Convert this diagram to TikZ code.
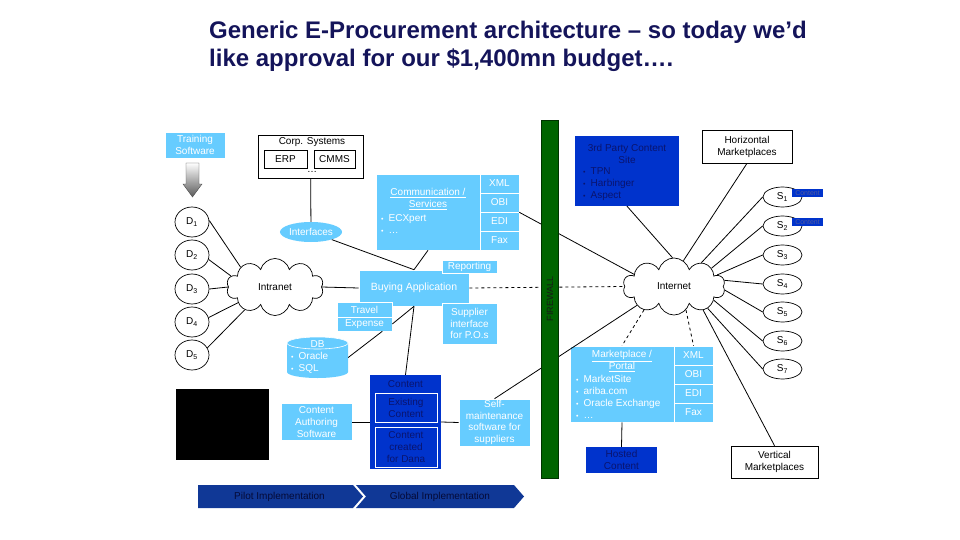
\documentclass[tikz,border=0pt]{standalone}
\usepackage{fontspec}
\setmainfont{Liberation Sans}
\usepackage{tikz}
\usetikzlibrary{calc,shapes.geometric,shapes.symbols}
\definecolor{lblue}{RGB}{102,204,255}
\definecolor{dblue}{RGB}{0,51,204}
\definecolor{txtnavy}{RGB}{10,20,110}
\definecolor{barblue}{RGB}{16,56,150}
\definecolor{fwgreen}{RGB}{0,100,0}
\definecolor{ttlblue}{RGB}{20,20,90}
\newcommand\blt{{\fontsize{7}{7}\selectfont\textbullet}\enspace}

\tikzset{
  lbox/.style={fill=lblue, draw=white, line width=0.6pt, text=white, align=center, inner sep=1pt},
  dbox/.style={fill=dblue, text=txtnavy, align=center, inner sep=1pt},
  wbox/.style={draw=black, fill=white, line width=0.7pt, align=center, inner sep=1pt},
  dnode/.style={ellipse, draw, line width=0.7pt, minimum width=34pt, minimum height=30pt, inner sep=0pt},
  snode/.style={ellipse, draw, line width=0.7pt, minimum width=39pt, minimum height=20pt, inner sep=0pt},
  netcloud/.style={cloud, draw, line width=0.7pt, cloud puffs=10, aspect=1.7, inner sep=0pt},
  link/.style={line width=0.8pt},
}

\begin{document}
\begin{tikzpicture}[x=1pt, y=-1pt, font=\fontsize{10}{12}\selectfont]
		\useasboundingbox (0,0) rectangle (960,540);
		%%%%% START %%%%%
		\node[anchor=north west, align=left, inner sep=0pt, text=ttlblue,
		      font=\bfseries\fontsize{24}{28.3}\selectfont] (title) at (209,21)
		      {Generic E-Procurement architecture – so today we’d\\like approval for our \$1,400mn budget….};
		
		% left side
		\node[lbox, minimum width=60pt, minimum height=26pt] (train) at (195,145) {Training\\Software};
		\shade[top color=white, bottom color=black!65, draw=black!70] (186,163) -- (199,163) -- (199,184) -- (202,184) -- (192.5,197) -- (183,184) -- (186,184) -- cycle;
		
		\node[dnode] (d1) at (192,222) {D\textsubscript{1}};
		\node[dnode] (d2) at (192,255) {D\textsubscript{2}};
		\node[dnode] (d3) at (192,289) {D\textsubscript{3}};
		\node[dnode] (d4) at (192,322) {D\textsubscript{4}};
		\node[dnode] (d5) at (192,355) {D\textsubscript{5}};
		
		\node[wbox, minimum width=105pt, minimum height=43pt] (corp) at (310.5,156.5) {};
		\node (corph) at (312,142) {Corp. Systems};
		\node[wbox, minimum width=43pt, minimum height=18pt] (erp) at (285.5,159) {ERP};
		\node[wbox, minimum width=41pt, minimum height=18pt] (cmms) at (334.5,159) {CMMS};
		\node[inner sep=0pt] (corpdots) at (312,172) {\dots};
		
		\node[ellipse, fill=lblue, text=white, minimum width=62pt, minimum height=20pt, inner sep=0pt] (intf) at (311,232) {Interfaces};
		
		\node[lbox, minimum width=104pt, minimum height=76pt] (comm) at (428,212) {};
		\node[text=white, align=center, inner sep=0pt] (commh) at (428,199) {\underline{Communication /}\\\underline{Services}};
		\node[text=white, align=left, inner sep=0pt, anchor=west] (commb) at (381,224) {\blt ECXpert\\\blt \dots};
		\node[lbox, minimum width=39pt, minimum height=19pt] (xml1) at (499.5,183.5) {XML};
		\node[lbox, minimum width=39pt, minimum height=19pt] (obi1) at (499.5,202.5) {OBI};
		\node[lbox, minimum width=39pt, minimum height=19pt] (edi1) at (499.5,221.5) {EDI};
		\node[lbox, minimum width=39pt, minimum height=19pt] (fax1) at (499.5,240.5) {Fax};
		
		\node[netcloud, minimum width=97pt, minimum height=57pt] (intra) at (275,287) {Intranet};
		
		\node[lbox, minimum width=110pt, minimum height=36pt, font=\fontsize{10.5}{12}\selectfont] (buy) at (414,288) {Buying Application};
		\node[lbox, minimum width=55pt, minimum height=13pt] (rep) at (469.5,266.5) {Reporting};
		\node[lbox, minimum width=55pt, minimum height=15pt] (trav) at (364.5,309.5) {Travel};
		\node[lbox, minimum width=55pt, minimum height=14pt] (exp) at (364.5,324) {Expense};
		\node[lbox, minimum width=55pt, minimum height=41pt, font=\fontsize{10}{11.5}\selectfont] (supp) at (469.5,323.5) {Supplier\\interface\\for P.O.s};
		
		\node[minimum width=61pt, minimum height=41pt, inner sep=0pt] (db) at (317.5,357.5) {};
		\fill[lblue] (287,343) -- (287,372) arc[start angle=180, end angle=0, x radius=30.5, y radius=6] -- (348,343) arc[start angle=0, end angle=-180, x radius=30.5, y radius=6] -- cycle;
		\draw[white, line width=0.6pt] (317.5,343) ellipse[x radius=30.5, y radius=6];
		\node[text=white, inner sep=0pt] (dbh) at (317.5,344) {DB};
		\node[text=white, align=left, inner sep=0pt, anchor=west] (dbb) at (291,362.5) {\blt Oracle\\\blt SQL};
		
		\fill[black] (176,389) rectangle (269,460);
		
		\node[lbox, minimum width=71pt, minimum height=37pt] (auth) at (316.5,422) {Content\\Authoring\\Software};
		\node[dbox, minimum width=71pt, minimum height=94pt] (cont) at (405.5,422) {};
		\node[text=txtnavy, inner sep=0pt] (conth) at (405.5,384) {Content};
		\node[dbox, draw=white, line width=0.6pt, minimum width=62pt, minimum height=29pt] (exist) at (406,407.5) {Existing\\Content};
		\node[dbox, draw=white, line width=0.6pt, minimum width=62pt, minimum height=40pt] (dana) at (406,447) {Content\\created\\for Dana};
		\node[lbox, minimum width=71pt, minimum height=47pt, inner sep=0pt, font=\fontsize{10}{11.5}\selectfont] (self) at (494.5,422.5) {Self-\\maintenance\\software for\\suppliers};
		
		\fill[barblue] (198,485) -- (353,485) -- (363,496.5) -- (353,508) -- (198,508) -- cycle;
		\fill[barblue] (356,485) -- (514,485) -- (524,496.5) -- (514,508) -- (356,508) -- (366,496.5) -- cycle;
		\node[text=txtnavy!50!black] (pilot) at (279.5,497) {Pilot Implementation};
		\node[text=txtnavy!50!black] (global) at (440,497) {Global Implementation};
		
		% right side
		\node[dbox, minimum width=104pt, minimum height=70pt] (third) at (627,171) {};
		\node[text=txtnavy, align=center, inner sep=0pt] (thirdh) at (627,154) {3rd Party Content\\Site};
		\node[text=txtnavy, align=left, inner sep=0pt, anchor=west] (thirdb) at (583,184) {\blt TPN\\\blt Harbinger\\\blt Aspect};
		
		\node[wbox, minimum width=90pt, minimum height=33pt] (hm) at (747,146.5) {Horizontal\\Marketplaces};
		
		\node[snode] (s1) at (782.5,197) {S\textsubscript{1}};
		\node[snode] (s2) at (782.5,226) {S\textsubscript{2}};
		\node[snode] (s3) at (782.5,255) {S\textsubscript{3}};
		\node[snode] (s4) at (782.5,284) {S\textsubscript{4}};
		\node[snode] (s5) at (782.5,312) {S\textsubscript{5}};
		\node[snode] (s6) at (782.5,341) {S\textsubscript{6}};
		\node[snode] (s7) at (782.5,369) {S\textsubscript{7}};
		\node[fill=dblue, text=txtnavy!70!white, minimum width=31pt, minimum height=8pt, inner sep=0pt, font=\fontsize{7}{7}\selectfont] (c1) at (807.5,193) {Content};
		\node[fill=dblue, text=txtnavy!70!white, minimum width=31pt, minimum height=8pt, inner sep=0pt, font=\fontsize{7}{7}\selectfont] (c2) at (807.5,222) {Content};
		
		\node[netcloud, minimum width=102pt, minimum height=57pt] (inet) at (674,286.5) {Internet};
		
		\node[lbox, minimum width=104pt, minimum height=76pt] (mkt) at (622,384) {};
		\node[text=white, align=center, inner sep=0pt] (mkth) at (622,361) {\underline{Marketplace /}\\\underline{Portal}};
		\node[text=white, align=left, inner sep=0pt, anchor=west] (mktb) at (576,397) {\blt MarketSite\\\blt ariba.com\\\blt Oracle Exchange\\\blt \dots};
		\node[lbox, minimum width=39pt, minimum height=19pt] (xml2) at (693.5,355.5) {XML};
		\node[lbox, minimum width=39pt, minimum height=19pt] (obi2) at (693.5,374.5) {OBI};
		\node[lbox, minimum width=39pt, minimum height=19pt] (edi2) at (693.5,393.5) {EDI};
		\node[lbox, minimum width=39pt, minimum height=19pt] (fax2) at (693.5,412.5) {Fax};
		
		\node[dbox, minimum width=71pt, minimum height=26pt] (hosted) at (621.5,460) {Hosted\\Content};
		\node[wbox, minimum width=87pt, minimum height=32pt] (vm) at (774.5,462) {Vertical\\Marketplaces};
		
		% connectors
		\draw[link] (d1.5) -- (intra.150);
		\draw[link] (d2.-15) -- (intra.166);
		\draw[link] (d3.east) -- (intra.west);
		\draw[link] (d4.15) -- (intra.203);
		\draw[link] (d5.25) -- (intra.217);
		\draw[link] (corp) -- (intf);
		\draw[link] (intf) -- (buy.north);
		\draw[link] (comm.south) -- (buy.north);
		\draw[link] (intra.east) -- (buy.west);
		\draw[link] (exp.east) -- (buy.south);
		\draw[link] ([xshift=-10pt]exp.south east) -- (db.east);
		\draw[link] (buy.south) -- (cont.north);
		\draw[link] (auth.east) -- (cont.west);
		\draw[link] (cont.east) -- (self.west);
		\draw[link, dashed] (buy.east) -- (inet.west);
		\draw[link] (obi1.south east) -- (inet.163);
		\draw[link] (self.north) -- (inet.207);
		\draw[link] (third.south) -- (inet.93);
		\draw[link] (hm.south) -- (inet.70);
		\draw[link] (s1.west) -- (inet.41);
		\draw[link] (s2.west) -- (inet.26);
		\draw[link] (s3.west) -- (inet.15);
		\draw[link] (s4.west) -- (inet.7);
		\draw[link] (s5.west) -- (inet.-4);
		\draw[link] (s6.west) -- (inet.-19);
		\draw[link] (s7.west) -- (inet.-33);
		\draw[link] (inet.-39) -- (vm.north);
		\draw[link, dashed] (inet.218) -- (mkt.north);
		\draw[link, dashed] (inet.297) -- (xml2.north);
		\draw[link] (mkt.south) -- (hosted.north);
		
		\node[draw=black!80!green, fill=fwgreen, rotate=90, minimum width=358pt, minimum height=17pt, inner sep=0pt,
		      text=black!90, font=\fontsize{9}{9}\selectfont] (fw) at (550,299) {FIREWALL};
		%%%%% END %%%%%
	\end{tikzpicture}
\end{document}
